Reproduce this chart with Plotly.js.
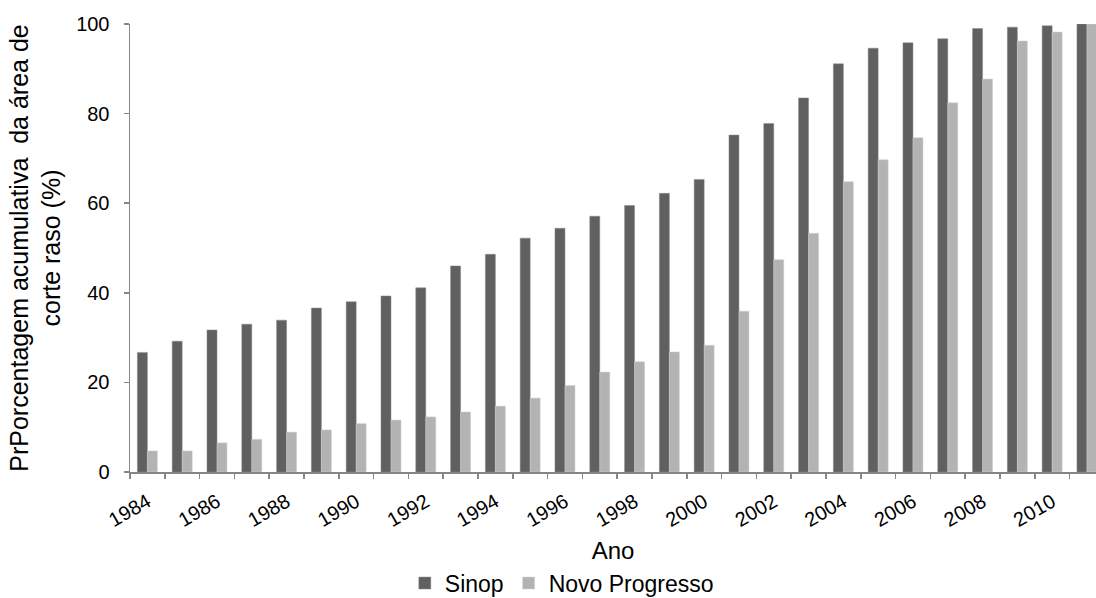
<!DOCTYPE html>
<html>
<head>
<meta charset="utf-8">
<script src="https://cdn.plot.ly/plotly-3.0.1.min.js"></script>
<style>
html,body{margin:0;padding:0;background:#fff;overflow:hidden;}
#chart{width:1096px;height:598px;}
</style>
</head>
<body>
<div id="chart"></div>
<script>
var years = [1984,1985,1986,1987,1988,1989,1990,1991,1992,1993,1994,1995,1996,1997,1998,1999,2000,2001,2002,2003,2004,2005,2006,2007,2008,2009,2010,2011];
var sinop = [26.7,29.2,31.7,33.0,33.9,36.6,38.0,39.3,41.1,46.0,48.6,52.2,54.4,57.1,59.5,62.2,65.3,75.2,77.8,83.5,91.1,94.6,95.8,96.7,99.0,99.3,99.6,100];
var novoProgresso = [4.7,4.7,6.5,7.3,8.9,9.4,10.8,11.6,12.3,13.4,14.7,16.5,19.3,22.3,24.6,26.8,28.3,35.9,47.4,53.3,64.8,69.7,74.6,82.4,87.7,96.2,98.2,100];
var tickYears = [1984,1986,1988,1990,1992,1994,1996,1998,2000,2002,2004,2006,2008,2010];
var tickLabels = ["1984","1986","1988","1990","1992","1994","1996","1998","2000","2002","2004","2006","2008","2010"];
var seriesNames = ["Sinop","Novo Progresso"];

var font = "Liberation Sans, Arial, sans-serif";
var axisColor = "#868686";

var traces = [
  {type:"bar", name:seriesNames[0], x:years, y:sinop, marker:{color:"#606060", line:{color:"#8a8a8a", width:0.5}}, hoverinfo:"x+y"},
  {type:"bar", name:seriesNames[1], x:years, y:novoProgresso, marker:{color:"#b3b3b3", line:{color:"#d0d0d0", width:0.5}}, hoverinfo:"x+y"}
];

var layout = {
  width:1096, height:598,
  margin:{l:130, r:0, t:24, b:126, pad:0, autoexpand:false},
  paper_bgcolor:"#ffffff", plot_bgcolor:"#ffffff",
  barmode:"group", bargap:0.425, bargroupgap:0,
  font:{family:font, color:"#000000", size:20},
  xaxis:{
    automargin:false,
    range:[1983.5, 2011.26],
    tickmode:"array", tickvals:tickYears, ticktext:tickLabels,
    tickangle:-30, ticks:"", ticklabelstandoff:9,
    tickfont:{family:font, size:20, color:"#000"},
    showline:true, linecolor:axisColor, linewidth:1.5,
    showgrid:false, zeroline:false,
    minor:{ticks:"outside", ticklen:5, tickcolor:axisColor, tickwidth:1.5, tick0:1983.5, dtick:1, showgrid:false},
    title:{text:"Ano", font:{family:font, size:24, color:"#000"}, standoff:12}
  },
  yaxis:{
    automargin:false,
    range:[0,100], tickmode:"linear", tick0:0, dtick:20,
    ticks:"outside", ticklen:5, tickcolor:axisColor, tickwidth:1.5,
    ticklabelstandoff:10,
    tickfont:{family:font, size:20, color:"#000"},
    showline:true, linecolor:axisColor, linewidth:1.5,
    showgrid:false, zeroline:false,
    title:{text:"PrPorcentagem acumulativa  da área de<br>corte raso (%)", font:{family:font, size:25, color:"#000"}, standoff:8}
  },
  showlegend:true,
  legend:{orientation:"h", x:0.447, xanchor:"center", y:-0.248, yanchor:"middle",
          font:{family:font, size:23, color:"#000"}, bgcolor:"rgba(0,0,0,0)", traceorder:"normal", itemwidth:30}
};

Plotly.newPlot("chart", traces, layout, {displayModeBar:false, staticPlot:true});
</script>
</body>
</html>
